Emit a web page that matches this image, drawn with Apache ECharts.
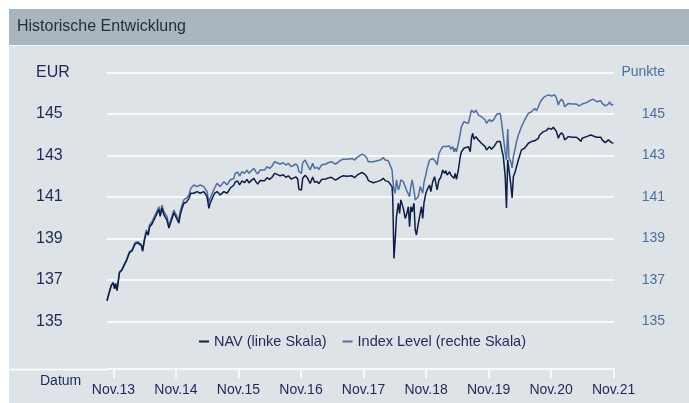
<!DOCTYPE html>
<html>
<head>
<meta charset="utf-8">
<script src="https://cdn.jsdelivr.net/npm/echarts@6/dist/echarts.min.js"></script>
<style>
html,body{margin:0;padding:0;background:#fff;}
#chart{width:689px;height:403px;}
</style>
</head>
<body>
<div id="chart"></div>
<script>
// Dates as decimal years
const years = [
2013.73,2013.76,2013.80,2013.83,2013.85,2013.87,2013.89,2013.92,2013.93,2013.97,
2014.00,2014.04,2014.09,2014.13,2014.18,2014.22,2014.25,2014.28,2014.30,2014.33,
2014.36,2014.39,2014.41,2014.45,2014.48,2014.50,2014.53,2014.56,2014.58,2014.61,
2014.64,2014.66,2014.69,2014.72,2014.75,2014.80,2014.84,2014.88,2014.90,2014.93,
2014.96,2015.00,2015.04,2015.07,2015.12,2015.17,2015.22,2015.28,2015.30,2015.33,
2015.36,2015.38,2015.41,2015.45,2015.49,2015.54,2015.60,2015.65,2015.70,2015.76,
2015.78,2015.82,2015.85,2015.89,2015.93,2015.97,2016.00,2016.04,2016.08,2016.11,
2016.14,2016.18,2016.21,2016.25,2016.29,2016.33,2016.37,2016.39,2016.41,2016.45,
2016.50,2016.55,2016.59,2016.63,2016.68,2016.71,2016.75,2016.78,2016.80,2016.84,
2016.86,2016.90,2016.94,2016.98,2017.02,2017.05,2017.09,2017.12,2017.16,2017.19,
2017.23,2017.27,2017.32,2017.35,2017.38,2017.42,2017.46,2017.50,2017.53,2017.57,
2017.60,2017.65,2017.69,2017.73,2017.76,2017.81,2017.83,2017.86,2017.89,2017.91,
2017.94,2017.99,2018.05,2018.10,2018.15,2018.18,2018.23,2018.26,2018.29,2018.30,
2018.32,2018.34,2018.36,2018.39,2018.41,2018.43,2018.44,2018.47,2018.50,2018.52,
2018.55,2018.57,2018.59,2018.61,2018.64,2018.66,2018.68,2018.71,2018.74,2018.76,
2018.78,2018.80,2018.83,2018.85,2018.89,2018.91,2018.94,2018.97,2018.99,2019.01,
2019.04,2019.07,2019.10,2019.13,2019.15,2019.17,2019.21,2019.23,2019.26,2019.28,
2019.30,2019.32,2019.35,2019.38,2019.40,2019.44,2019.47,2019.51,2019.54,2019.56,
2019.58,2019.60,2019.63,2019.67,2019.72,2019.78,2019.80,2019.85,2019.88,2019.92,
2019.94,2019.97,2019.99,2020.02,2020.04,2020.07,2020.10,2020.12,2020.14,2020.16,
2020.19,2020.21,2020.23,2020.26,2020.28,2020.31,2020.36,2020.41,2020.47,2020.52,
2020.55,2020.57,2020.60,2020.63,2020.65,2020.68,2020.71,2020.73,2020.76,2020.79,
2020.81,2020.84,2020.87,2020.89,2020.92,2020.95,2020.97,2021.00,2021.03,2021.05,
2021.08,2021.11,2021.13,2021.17,2021.20,2021.24,2021.28,2021.31,2021.33,2021.36,
2021.40,2021.43,2021.47,2021.51,2021.53,2021.56,2021.59,2021.63,2021.65,2021.68,
2021.70,2021.72,2021.75,2021.77,2021.80,2021.83
];

// NAV (EUR, left scale)
const nav = [
136.00,136.34,136.74,136.86,136.58,136.81,136.49,136.52,137.36,137.48,
137.68,137.92,138.32,138.40,138.74,138.79,138.86,138.65,138.38,138.93,
139.32,139.16,139.55,139.70,139.62,140.01,139.92,140.40,140.07,140.46,
140.14,140.21,139.88,139.50,139.78,140.24,139.99,139.74,140.13,140.44,
140.70,140.75,140.92,141.18,141.18,141.26,141.18,141.26,141.34,141.02,
140.45,140.70,140.61,141.18,141.26,141.10,141.26,141.18,141.42,141.58,
141.72,141.77,141.58,141.78,141.69,141.85,141.68,141.80,141.90,141.74,
141.62,141.80,141.87,141.78,141.93,141.85,141.95,141.91,142.14,142.09,
142.02,142.07,141.95,142.02,141.86,141.93,141.97,141.87,141.37,141.34,
141.90,142.05,141.90,141.65,141.96,141.71,141.75,141.64,141.84,141.75,
141.87,141.92,141.95,142.02,141.82,141.87,141.96,142.02,141.94,142.00,
141.95,142.02,141.93,142.05,142.11,142.19,142.25,142.08,141.95,141.79,
141.79,141.69,141.74,141.79,141.90,141.79,141.74,141.82,141.50,141.02,
138.04,138.93,140.05,140.70,140.21,140.86,140.78,140.45,139.97,140.13,
140.53,139.57,140.53,140.29,140.70,139.41,139.17,139.73,140.21,140.53,
139.97,140.70,141.18,141.34,141.58,141.26,141.74,141.98,142.06,141.34,
141.82,141.95,142.30,142.14,142.27,142.06,142.22,142.06,142.14,141.90,
142.14,141.85,142.30,142.94,143.18,143.35,143.27,143.43,143.18,143.83,
144.07,143.78,143.91,143.75,143.59,143.43,143.27,143.43,143.30,143.43,
143.35,143.67,143.75,143.67,143.35,142.94,141.98,140.47,142.78,142.30,
141.58,140.95,141.98,142.22,142.46,142.78,143.27,143.35,143.59,143.67,
143.59,143.71,143.62,143.83,143.99,144.07,144.15,144.23,144.20,144.31,
144.23,144.26,144.36,144.31,144.15,143.83,143.99,144.10,143.99,143.75,
143.67,143.91,143.83,143.88,143.94,143.88,143.78,143.67,143.83,143.88,
143.91,143.94,143.99,143.94,143.91,143.88,143.94,143.88,143.75,143.78,
143.62,143.55,143.75,143.78,143.62,143.59
];

// Index Level (Punkte, right scale)
const indexLevel = [
136.00,136.36,136.76,136.89,136.60,136.84,136.52,136.55,137.40,137.52,
137.72,137.96,138.37,138.45,138.80,138.85,138.93,138.72,138.45,139.01,
139.41,139.25,139.65,139.81,139.73,140.13,140.05,140.53,140.21,140.61,
140.29,140.37,140.05,139.60,139.89,140.37,140.13,139.89,140.29,140.61,
140.86,140.94,141.10,141.42,141.58,141.50,141.58,141.50,141.58,141.26,
140.73,140.94,140.86,141.42,141.66,141.50,141.74,141.58,141.82,141.90,
142.14,142.20,142.01,142.22,142.14,142.30,142.14,142.27,142.38,142.22,
142.11,142.30,142.38,142.30,142.46,142.38,142.49,142.46,142.70,142.65,
142.59,142.65,142.54,142.62,142.46,142.54,142.59,142.49,142.22,142.14,
142.65,142.78,142.54,142.30,142.62,142.38,142.43,142.33,142.54,142.46,
142.59,142.65,142.70,142.78,142.59,142.65,142.75,142.82,142.75,142.82,
142.78,142.86,142.78,142.91,142.98,143.07,143.14,142.98,142.86,142.70,
142.75,142.70,142.75,142.78,142.90,142.78,142.75,142.78,142.30,141.90,
141.34,141.18,141.82,141.34,141.50,141.82,141.90,141.74,141.50,141.34,
141.26,141.02,141.50,141.82,141.34,140.86,140.78,141.02,141.50,141.34,
141.18,141.69,142.06,142.38,142.78,142.86,142.86,142.94,142.70,142.54,
143.10,143.27,143.43,143.51,143.43,143.35,143.46,143.30,143.43,143.18,
143.35,143.18,143.59,144.07,144.39,144.63,144.71,144.55,144.55,145.19,
145.27,145.06,145.19,144.95,144.87,144.71,144.55,144.74,144.63,144.74,
144.87,145.00,145.06,145.03,144.63,143.91,143.11,142.78,144.28,142.88,
142.69,142.40,142.94,143.35,143.67,143.99,144.39,144.71,145.03,145.11,
145.19,145.27,145.16,145.35,145.51,145.67,145.64,145.84,145.80,145.92,
145.84,145.87,145.96,145.92,145.76,145.43,145.59,145.71,145.59,145.35,
145.27,145.51,145.43,145.48,145.55,145.48,145.39,145.35,145.48,145.51,
145.55,145.59,145.67,145.71,145.64,145.59,145.67,145.64,145.51,145.55,
145.39,145.32,145.48,145.59,145.43,145.48
];

const tickYears = [2013.8334,2014.8334,2015.8334,2016.8334,2017.8334,2018.8334,2019.8334,2020.8334,2021.8334];
const tickLabels = ['Nov.13','Nov.14','Nov.15','Nov.16','Nov.17','Nov.18','Nov.19','Nov.20','Nov.21'];
const seriesNames = ['NAV (linke Skala)', 'Index Level (rechte Skala)'];

const FONT = '"Liberation Sans", Arial, sans-serif';
const NAVY = '#1b2a58';
const STEEL = '#4d6f9f';

const chart = echarts.init(document.getElementById('chart'), null, {renderer: 'canvas'});

function labelFor(v) {
  let best = 0, bd = 1e9;
  tickYears.forEach((t, i) => { const d = Math.abs(t - v); if (d < bd) { bd = d; best = i; } });
  return tickLabels[best];
}

const option = {
  animation: false,
  backgroundColor: '#dde3e7',
  textStyle: {fontFamily: FONT},
  graphic: [
    {type: 'rect', shape: {x: 0, y: 0, width: 689, height: 9}, style: {fill: '#ffffff'}, silent: true},
    {type: 'rect', shape: {x: 0, y: 0, width: 9, height: 403}, style: {fill: '#ffffff'}, silent: true},
    {type: 'rect', shape: {x: 9, y: 9, width: 680, height: 36}, style: {fill: '#a9b5bf'}, silent: true},
    {type: 'rect', shape: {x: 9, y: 45, width: 680, height: 1}, style: {fill: '#f4f6f8'}, silent: true},
    {type: 'text', x: 17, y: 27, style: {text: 'Historische Entwicklung', fill: '#2a2e33', font: '16px ' + FONT, textVerticalAlign: 'middle'}, silent: true},
    {type: 'line', shape: {x1: 9, y1: 369.5, x2: 108, y2: 369.5}, style: {stroke: '#ffffff', lineWidth: 1.5}, silent: true},
    {type: 'text', x: 40, y: 381, style: {text: 'Datum', fill: NAVY, font: '14px ' + FONT, textVerticalAlign: 'middle'}, silent: true}
  ],
  legend: {
    left: 199,
    top: 334,
    padding: 0,
    itemWidth: 10,
    itemHeight: 2,
    itemGap: 16,
    icon: 'rect',
    textStyle: {color: NAVY, fontSize: 14.5, fontFamily: FONT},
    data: seriesNames
  },
  grid: {left: 107, right: 75, top: 72.5, bottom: 81.5, containLabel: false},
  xAxis: {
    type: 'value',
    min: 2013.73,
    max: 2021.84,
    offset: 47,
    axisLine: {show: true, lineStyle: {color: '#ffffff', width: 1.5}},
    axisTick: {show: true, customValues: tickYears, length: 10, lineStyle: {color: '#ffffff', width: 1.5}},
    axisLabel: {customValues: tickYears, formatter: labelFor, color: NAVY, fontSize: 14, fontFamily: FONT, margin: 15},
    splitLine: {show: false}
  },
  yAxis: [
    {
      type: 'value', min: 135, max: 147, interval: 2, position: 'left',
      axisLine: {show: false}, axisTick: {show: false},
      splitLine: {show: true, lineStyle: {color: '#ffffff', width: 1.5}},
      axisLabel: {
        color: NAVY, fontSize: 16, fontFamily: FONT, align: 'left', margin: 71,
        showMinLabel: true, showMaxLabel: true,
        formatter: v => v === 147 ? 'EUR' : String(v)
      }
    },
    {
      type: 'value', min: 135, max: 147, interval: 2, position: 'right',
      axisLine: {show: false}, axisTick: {show: false},
      splitLine: {show: false},
      axisLabel: {
        color: STEEL, fontSize: 14, fontFamily: FONT, align: 'right', margin: 51,
        showMinLabel: true, showMaxLabel: true,
        formatter: v => v === 147 ? 'Punkte' : String(v)
      }
    }
  ],
  series: [
    {
      name: seriesNames[0], type: 'line', yAxisIndex: 0,
      data: years.map((x, i) => [x, nav[i]]),
      showSymbol: false, symbol: 'none',
      lineStyle: {color: '#0e1d48', width: 1.5},
      itemStyle: {color: '#0e1d48'},
      z: 3
    },
    {
      name: seriesNames[1], type: 'line', yAxisIndex: 1,
      data: years.map((x, i) => [x, indexLevel[i]]),
      showSymbol: false, symbol: 'none',
      lineStyle: {color: STEEL, width: 1.5},
      itemStyle: {color: STEEL},
      z: 2
    }
  ]
};
chart.setOption(option);
</script>
</body>
</html>
